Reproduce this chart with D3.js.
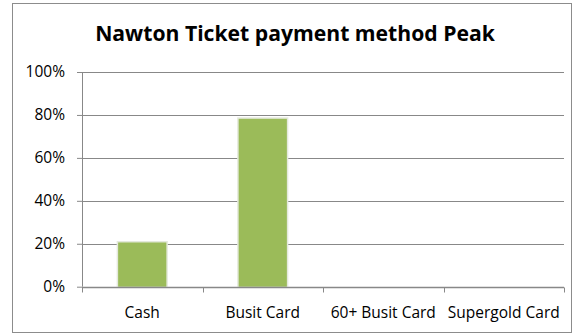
<!DOCTYPE html>
<html><head><meta charset="utf-8">
<script src="https://cdn.jsdelivr.net/npm/d3@7"></script>
<style>body{margin:0;background:#fff;} svg{display:block;}</style>
</head><body>
<svg id="c" width="574" height="334"></svg>
<script>
const categories = ["Cash", "Busit Card", "60+ Busit Card", "Supergold Card"];
const values = [0.206, 0.782, 0, 0];
const yTicks = [0, 0.2, 0.4, 0.6, 0.8, 1.0];
const title = "Nawton Ticket payment method Peak";

const svg = d3.select("#c");
const font = "'Open Sans', sans-serif";
svg.append("rect").attr("x", 12.5).attr("y", 3.5).attr("width", 559).attr("height", 329)
  .attr("fill", "#fff").attr("stroke", "#8c8c8c").attr("stroke-width", 1);

const m = {l: 82, r: 564, t: 72, b: 286.7};
const x = d3.scaleBand().domain(categories).range([m.l, m.r]).paddingInner(0.6).paddingOuter(0.3);
const xb = d3.scaleBand().domain(categories).range([m.l, m.r]);
const y = d3.scaleLinear().domain([0, 1]).range([m.b, m.t]);

svg.append("g").selectAll("line").data(yTicks.filter(d => d > 0)).join("line")
  .attr("x1", m.l).attr("x2", m.r).attr("y1", d => Math.round(y(d)) + 0.5).attr("y2", d => Math.round(y(d)) + 0.5)
  .attr("stroke", "#888").attr("stroke-width", 1);

svg.append("g").selectAll("rect").data(values).join("rect")
  .attr("x", (d, i) => x(categories[i]) - 1.5).attr("y", d => y(d) - 1.5)
  .attr("width", x.bandwidth() + 3).attr("height", d => d > 0 ? m.b - y(d) + 1.5 : 0)
  .attr("fill", "#e4e9dc");
svg.append("g").selectAll("rect").data(values).join("rect")
  .attr("x", (d, i) => x(categories[i])).attr("y", d => y(d))
  .attr("width", x.bandwidth()).attr("height", d => m.b - y(d))
  .attr("fill", "#9BBB59");

const ya = d3.axisLeft(y).tickValues(yTicks).tickFormat(d3.format(".0%")).tickSize(5).tickPadding(12);
const gy = svg.append("g").attr("transform", `translate(${m.l},0)`).call(ya);
gy.select(".domain").attr("stroke", "#888").attr("d", `M0.5,${m.t}V${m.b}`);
gy.selectAll(".tick line").attr("stroke", "#888");
gy.selectAll("text").attr("font-family", font).attr("font-size", 15.5).attr("fill", "#000");

const xa = d3.axisBottom(xb).tickSize(0).tickPadding(19.5);
const gx = svg.append("g").attr("transform", `translate(0,${Math.round(m.b)+0.5})`).call(xa);
gx.select(".domain").attr("stroke", "#888").attr("stroke-width", 1.5).attr("d", `M${m.l},0H${m.r}`);
gx.selectAll("text").attr("font-family", font).attr("font-size", 15.5).attr("fill", "#000");
gx.append("g").selectAll("line").data(categories.concat(["end"])).join("line")
  .attr("x1", (d, i) => Math.round(m.l + i * xb.bandwidth()) + 0.5)
  .attr("x2", (d, i) => Math.round(m.l + i * xb.bandwidth()) + 0.5)
  .attr("y1", 0).attr("y2", 5).attr("stroke", "#888");

const t = svg.append("text").attr("x", 295).attr("y", 41).attr("text-anchor", "middle")
  .attr("font-family", font).attr("font-weight", "bold").attr("font-size", 20)
  .attr("fill", "#000").text(title);
const w = t.node().getComputedTextLength();
t.attr("font-size", 20 * 400 / w);
</script>
</body></html>
